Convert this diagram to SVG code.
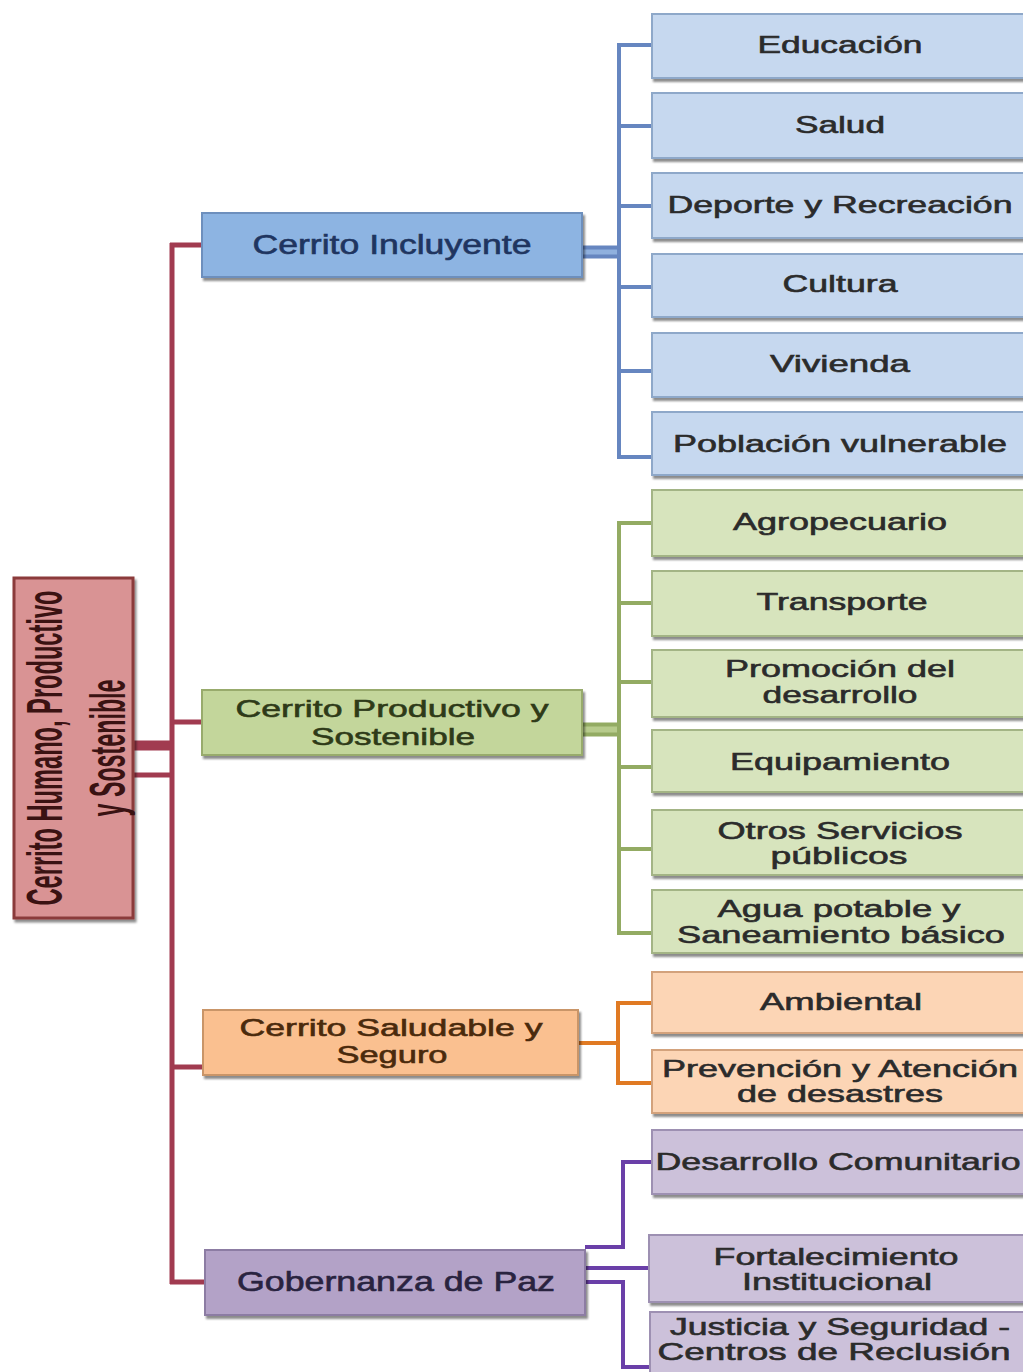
<svg xmlns="http://www.w3.org/2000/svg" width="1023" height="1372" viewBox="0 0 1023 1372">
<defs>
<filter id="sh" x="-5%" y="-10%" width="115%" height="130%">
<feDropShadow dx="2" dy="3" stdDeviation="1.2" flood-color="#000" flood-opacity="0.45"/>
</filter>
</defs>
<style>
text{font-family:"Liberation Sans",Arial,sans-serif;font-size:24px;text-anchor:middle;stroke-width:0.6}
.leaf text{fill:#2b2b2b;stroke:#2b2b2b}
.bl rect{fill:#c6d8ef;stroke:#8ea8c9;stroke-width:2}
.gr rect{fill:#d7e4bd;stroke:#a3b485;stroke-width:2}
.or rect{fill:#fcd5b5;stroke:#d3a27c;stroke-width:2}
.pu rect{fill:#ccc1da;stroke:#9d90b2;stroke-width:2}
.mid text{font-size:27px}
.mid text.two{font-size:24.5px}
.c{fill:none;stroke-linecap:butt}
.red{stroke:#a13b50;stroke-width:5}
.blue{stroke:#6686c0;stroke-width:4}
.green{stroke:#93ab63;stroke-width:4}
.orange{stroke:#e07a23;stroke-width:4}
.purple{stroke:#6a3fa8;stroke-width:4}
</style>
<rect width="1023" height="1372" fill="#ffffff"/>

<g id="connectors">
  <!-- trunk -->
  <path class="c red" d="M172,243 V1284"/>
  <path class="c red" stroke-width="3" d="M170,245 H202 M170,722 H202 M170,1067 H203 M170,1282 H205"/>
  <path class="c red" stroke-width="3" d="M133,743 H172 M133,748 H172 M133,775 H172"/>
  <!-- blue -->
  <rect x="582" y="246" width="37" height="12" fill="#8fb0de"/>
  <path class="c blue" stroke-width="3" d="M582,247.5 H619 M582,256.5 H619"/>
  <path class="c blue" d="M619,43 V459"/>
  <path class="c blue" stroke-width="3" d="M619,45 H652 M619,126 H652 M619,206 H652 M619,287 H652 M619,371 H652 M619,457 H652"/>
  <!-- green -->
  <rect x="582" y="723" width="37" height="13" fill="#b7cb8c"/>
  <path class="c green" stroke-width="3" d="M582,724.5 H619 M582,734.5 H619"/>
  <path class="c green" d="M619,521 V935"/>
  <path class="c green" stroke-width="3" d="M619,523 H652 M619,603 H652 M619,682 H652 M619,767 H652 M619,849 H652 M619,933 H652"/>
  <!-- orange -->
  <path class="c orange" d="M578,1043 H618"/>
  <path class="c orange" d="M618,1001 V1085"/>
  <path class="c orange" stroke-width="3" d="M618,1003 H652 M618,1083 H652"/>
  <!-- purple -->
  <path class="c purple" d="M585,1247 H623 V1162 H652"/>
  <path class="c purple" d="M585,1268 H650"/>
  <path class="c purple" d="M585,1282 H623 V1367 H650"/>
</g>

<g id="root">
  <rect x="14" y="578" width="119" height="340" fill="#d99394" stroke="#8b3a3a" stroke-width="3" filter="url(#sh)"/>
  <g transform="translate(73,748) scale(1.48,1) rotate(-90)">
    <text x="0" y="-7.4" style="font-size:34px;font-weight:bold;fill:#3a1212" textLength="315" lengthAdjust="spacingAndGlyphs">Cerrito Humano, Productivo</text>
    <text x="0" y="35" style="font-size:34px;font-weight:bold;fill:#3a1212" textLength="137" lengthAdjust="spacingAndGlyphs">y Sostenible</text>
  </g>
</g>

<g id="cerrito-incluyente" class="mid">
  <rect x="202" y="213" width="380" height="64" fill="#8db4e2" stroke="#6d8fbd" stroke-width="2" filter="url(#sh)"/>
  <text x="392" y="254" fill="#1f3560" stroke="#1f3560" textLength="279" lengthAdjust="spacingAndGlyphs">Cerrito Incluyente</text>
</g>
<g id="cerrito-productivo" class="mid">
  <rect x="202" y="690" width="380" height="65" fill="#c3d69b" stroke="#98ab6c" stroke-width="2" filter="url(#sh)"/>
  <text class="two" x="392" y="717" fill="#2e3a18" stroke="#2e3a18" textLength="313" lengthAdjust="spacingAndGlyphs">Cerrito Productivo y</text>
  <text class="two" x="393" y="745" fill="#2e3a18" stroke="#2e3a18" textLength="164" lengthAdjust="spacingAndGlyphs">Sostenible</text>
</g>
<g id="cerrito-saludable" class="mid">
  <rect x="203" y="1010" width="375" height="65" fill="#fac090" stroke="#c99568" stroke-width="2" filter="url(#sh)"/>
  <text class="two" x="391" y="1036" fill="#4a2a0c" stroke="#4a2a0c" textLength="303" lengthAdjust="spacingAndGlyphs">Cerrito Saludable y</text>
  <text class="two" x="392" y="1063" fill="#4a2a0c" stroke="#4a2a0c" textLength="111" lengthAdjust="spacingAndGlyphs">Seguro</text>
</g>
<g id="gobernanza" class="mid">
  <rect x="205" y="1250" width="380" height="65" fill="#b3a2c7" stroke="#8c7ca3" stroke-width="2" filter="url(#sh)"/>
  <text x="396" y="1291" fill="#29233f" stroke="#29233f" textLength="318" lengthAdjust="spacingAndGlyphs">Gobernanza de Paz</text>
</g>

<!-- blue leaves -->
<g id="educacion" class="leaf bl"><rect x="652" y="14" width="380" height="64" filter="url(#sh)"/><text x="840" y="53" textLength="165" lengthAdjust="spacingAndGlyphs">Educación</text></g>
<g id="salud" class="leaf bl"><rect x="652" y="93" width="380" height="65" filter="url(#sh)"/><text x="840" y="133" textLength="90" lengthAdjust="spacingAndGlyphs">Salud</text></g>
<g id="deporte" class="leaf bl"><rect x="652" y="173" width="380" height="65" filter="url(#sh)"/><text x="840" y="213" textLength="345" lengthAdjust="spacingAndGlyphs">Deporte y Recreación</text></g>
<g id="cultura" class="leaf bl"><rect x="652" y="254" width="380" height="63" filter="url(#sh)"/><text x="840" y="292" textLength="115" lengthAdjust="spacingAndGlyphs">Cultura</text></g>
<g id="vivienda" class="leaf bl"><rect x="652" y="333" width="380" height="64" filter="url(#sh)"/><text x="840" y="372" textLength="140" lengthAdjust="spacingAndGlyphs">Vivienda</text></g>
<g id="poblacion" class="leaf bl"><rect x="652" y="412" width="380" height="63" filter="url(#sh)"/><text x="840" y="452" textLength="334" lengthAdjust="spacingAndGlyphs">Población vulnerable</text></g>

<!-- green leaves -->
<g id="agropecuario" class="leaf gr"><rect x="652" y="490" width="380" height="66" filter="url(#sh)"/><text x="840" y="530" textLength="214" lengthAdjust="spacingAndGlyphs">Agropecuario</text></g>
<g id="transporte" class="leaf gr"><rect x="652" y="571" width="380" height="65" filter="url(#sh)"/><text x="842" y="610" textLength="171" lengthAdjust="spacingAndGlyphs">Transporte</text></g>
<g id="promocion" class="leaf gr"><rect x="652" y="650" width="380" height="67" filter="url(#sh)"/><text x="840" y="677" textLength="230" lengthAdjust="spacingAndGlyphs">Promoción del</text><text x="840" y="703" textLength="155" lengthAdjust="spacingAndGlyphs">desarrollo</text></g>
<g id="equipamiento" class="leaf gr"><rect x="652" y="730" width="380" height="62" filter="url(#sh)"/><text x="840" y="770" textLength="220" lengthAdjust="spacingAndGlyphs">Equipamiento</text></g>
<g id="otros" class="leaf gr"><rect x="652" y="810" width="380" height="65" filter="url(#sh)"/><text x="840" y="839" textLength="245" lengthAdjust="spacingAndGlyphs">Otros Servicios</text><text x="839" y="864" textLength="137" lengthAdjust="spacingAndGlyphs">públicos</text></g>
<g id="agua" class="leaf gr"><rect x="652" y="890" width="380" height="63" filter="url(#sh)"/><text x="839" y="917" textLength="243" lengthAdjust="spacingAndGlyphs">Agua potable y</text><text x="841" y="943" textLength="328" lengthAdjust="spacingAndGlyphs">Saneamiento básico</text></g>

<!-- orange leaves -->
<g id="ambiental" class="leaf or"><rect x="652" y="972" width="380" height="61" filter="url(#sh)"/><text x="841" y="1010" textLength="162" lengthAdjust="spacingAndGlyphs">Ambiental</text></g>
<g id="prevencion" class="leaf or"><rect x="652" y="1050" width="380" height="63" filter="url(#sh)"/><text x="840" y="1077" textLength="356" lengthAdjust="spacingAndGlyphs">Prevención y Atención</text><text x="840" y="1102" textLength="206" lengthAdjust="spacingAndGlyphs">de desastres</text></g>

<!-- purple leaves -->
<g id="desarrollo" class="leaf pu"><rect x="652" y="1130" width="380" height="64" filter="url(#sh)"/><text x="838" y="1170" textLength="365" lengthAdjust="spacingAndGlyphs">Desarrollo Comunitario</text></g>
<g id="fortalecimiento" class="leaf pu"><rect x="649" y="1235" width="383" height="67" filter="url(#sh)"/><text x="836" y="1265" textLength="245" lengthAdjust="spacingAndGlyphs">Fortalecimiento</text><text x="837" y="1290" textLength="190" lengthAdjust="spacingAndGlyphs">Institucional</text></g>
<g id="justicia" class="leaf pu"><rect x="650" y="1312" width="382" height="70" filter="url(#sh)"/><text x="840" y="1335" textLength="340" lengthAdjust="spacingAndGlyphs">Justicia y Seguridad -</text><text x="834" y="1360" textLength="353" lengthAdjust="spacingAndGlyphs">Centros de Reclusión</text></g>
</svg>
